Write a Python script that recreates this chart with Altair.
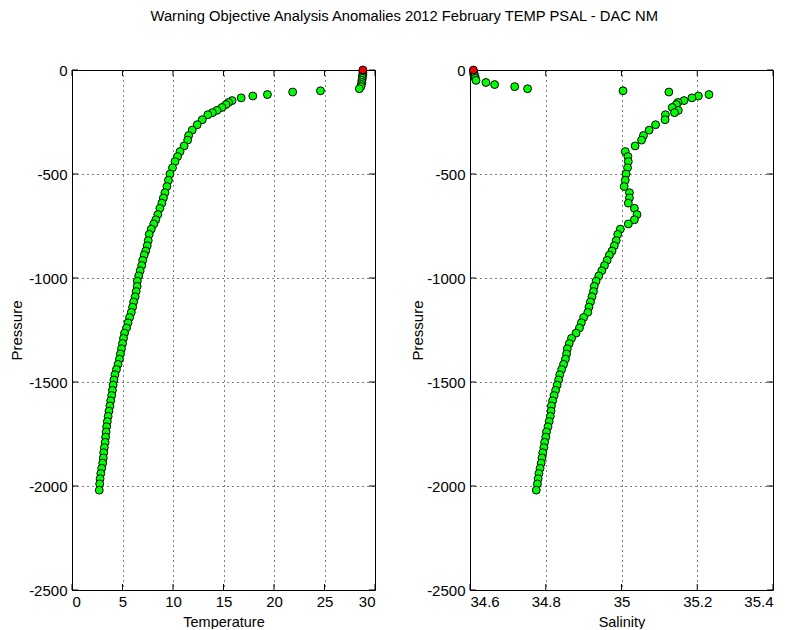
import altair as alt
import pandas as pd

TITLE = "Warning Objective Analysis Anomalies 2012 February TEMP PSAL - DAC NM"

# Pressure levels (dbar, shown negative)
pres = [0, -10, -20, -30, -40, -50, -60, -70, -80, -90,
        -100, -106, -118, -125, -134, -147, -156, -166, -180, -194,
        -205, -215, -239, -263, -289, -315, -337, -365, -392, -416,
        -440, -470, -500, -530, -560, -590, -615, -640, -665, -695,
        -720, -740, -765, -790, -820, -845, -870, -890, -915, -940,
        -965, -990, -1015, -1040, -1065, -1090, -1115, -1140, -1165, -1190,
        -1215, -1240, -1265, -1290, -1315, -1340, -1365, -1390, -1415, -1440,
        -1465, -1490, -1515, -1540, -1565, -1590, -1615, -1640, -1665, -1690,
        -1715, -1740, -1765, -1790, -1815, -1840, -1865, -1890, -1915, -1940,
        -1965, -1990, -2020]

temp = [28.8, 28.8, 28.8, 28.75, 28.75, 28.7, 28.7, 28.65, 28.6, 28.45,
        24.6, 21.85, 19.35, 17.9, 16.75, 15.85, 15.5, 15.25, 14.85, 14.35,
        13.9, 13.45, 12.9, 12.4, 11.9, 11.55, 11.45, 11.1, 10.7, 10.45,
        10.2, 9.95, 9.7, 9.55, 9.4, 9.2, 9.05, 8.9, 8.7, 8.5,
        8.3, 8.1, 7.85, 7.65, 7.55, 7.45, 7.3, 7.15, 7.0, 6.9,
        6.75, 6.6, 6.47, 6.45, 6.35, 6.25, 6.1, 6.0, 5.87, 5.7,
        5.55, 5.4, 5.2, 5.1, 5.0, 4.9, 4.8, 4.7, 4.55, 4.4,
        4.25, 4.15, 4.07, 4.0, 3.93, 3.83, 3.75, 3.66, 3.58, 3.5,
        3.43, 3.38, 3.33, 3.28, 3.2, 3.14, 3.1, 3.04, 2.94, 2.85,
        2.78, 2.74, 2.70]

psal = [34.609, 34.610, 34.611, 34.613, 34.614, 34.616, 34.642, 34.665, 34.718, 34.752,
        35.004, 35.125, 35.231, 35.203, 35.186, 35.165, 35.149, 35.145, 35.134, 35.150,
        35.140, 35.116, 35.115, 35.090, 35.073, 35.058, 35.053, 35.036, 35.010, 35.017,
        35.018, 35.016, 35.012, 35.010, 35.007, 35.021, 35.021, 35.018, 35.034, 35.041,
        35.034, 35.018, 34.997, 34.990, 34.986, 34.981, 34.975, 34.968, 34.962, 34.955,
        34.948, 34.940, 34.933, 34.928, 34.926, 34.922, 34.918, 34.914, 34.911, 34.900,
        34.894, 34.889, 34.880, 34.868, 34.862, 34.857, 34.855, 34.852, 34.847, 34.842,
        34.837, 34.834, 34.830, 34.826, 34.822, 34.818, 34.815, 34.814, 34.812, 34.809,
        34.806, 34.802, 34.800, 34.797, 34.795, 34.792, 34.790, 34.788, 34.785, 34.782,
        34.780, 34.778, 34.775]

flags = ["bad"] + ["good"] * (len(pres) - 1)

temp_ticks = [0, 5, 10, 15, 20, 25, 30]
psal_ticks = [34.6, 34.8, 35.0, 35.2, 35.4]
pres_ticks = [0, -500, -1000, -1500, -2000, -2500]

df = pd.DataFrame({"pres": pres, "temp": temp, "psal": psal, "flag": flags})

W, H = 303, 520
FONT = "Liberation Sans"


def panel(field, xtitle, xdomain, xticks, ytitle_x):
    xs = alt.Scale(domain=xdomain, nice=False, zero=False)
    ys = alt.Scale(domain=[-2500, 0], nice=False, zero=False)
    xaxis = alt.Axis(values=xticks, title=xtitle, grid=True, gridDash=[1, 4],
                     gridColor="black", gridOpacity=1, tickSize=0, domain=False,
                     labelFont=FONT, labelFontSize=15, labelColor="black",
                     labelPadding=4, labelExpr="'' + datum.value",
                     titleFont=FONT, titleFontSize=14.5, titleFontWeight="normal",
                     titleColor="black", titleX=W / 2, titleY=32,
                     titleBaseline="middle", titleAlign="center")
    yaxis = alt.Axis(values=pres_ticks, title="Pressure", grid=True, gridDash=[1, 4],
                     gridColor="black", gridOpacity=1, tickSize=0, domain=False,
                     labelFont=FONT, labelFontSize=15, labelColor="black",
                     labelPadding=5, labelExpr="'' + datum.value",
                     titleFont=FONT, titleFontSize=15, titleFontWeight="normal",
                     titleColor="black", titleX=ytitle_x, titleY=H / 2,
                     titleBaseline="middle", titleAlign="center", titleAngle=270)

    xenc = alt.X(f"{field}:Q", scale=xs, axis=xaxis)
    yenc = alt.Y("pres:Q", scale=ys, axis=yaxis)

    base = alt.Chart(df).encode(x=xenc, y=yenc)
    good = base.transform_filter("datum.flag == 'good'").mark_circle(
        size=62, fill="#00ff00", stroke="black", strokeWidth=1, opacity=1)
    bad = base.transform_filter("datum.flag == 'bad'").mark_circle(
        size=62, fill="#ee0000", stroke="black", strokeWidth=1, opacity=1)

    xt = alt.Chart(pd.DataFrame({field: xticks}))
    yt = alt.Chart(pd.DataFrame({"pres": pres_ticks}))
    tick_top = xt.mark_rule(color="black").encode(x=xenc, y=alt.value(0), y2=alt.value(6))
    tick_bot = xt.mark_rule(color="black").encode(x=xenc, y=alt.value(H), y2=alt.value(H - 6))
    tick_l = yt.mark_rule(color="black").encode(y=yenc, x=alt.value(0), x2=alt.value(6))
    tick_r = yt.mark_rule(color="black").encode(y=yenc, x=alt.value(W), x2=alt.value(W - 6))

    return alt.layer(tick_top, tick_bot, tick_l, tick_r, good, bad).properties(width=W, height=H)


left = panel("temp", "Temperature", [0, 30], temp_ticks, -56)
right = panel("psal", "Salinity", [34.6, 35.4], psal_ticks, -53)

chart = alt.hconcat(left, right, spacing=95, bounds="flush").properties(
    title=alt.Title(TITLE, font=FONT, fontSize=14.75, fontWeight="normal", color="black",
                    anchor="middle", offset=39, dx=13),
    padding={"left": 0, "top": 0, "right": 0, "bottom": 0},
).configure_view(stroke="black", strokeWidth=1)

chart.save("out.html", embed_options={"renderer": "svg", "actions": False})
